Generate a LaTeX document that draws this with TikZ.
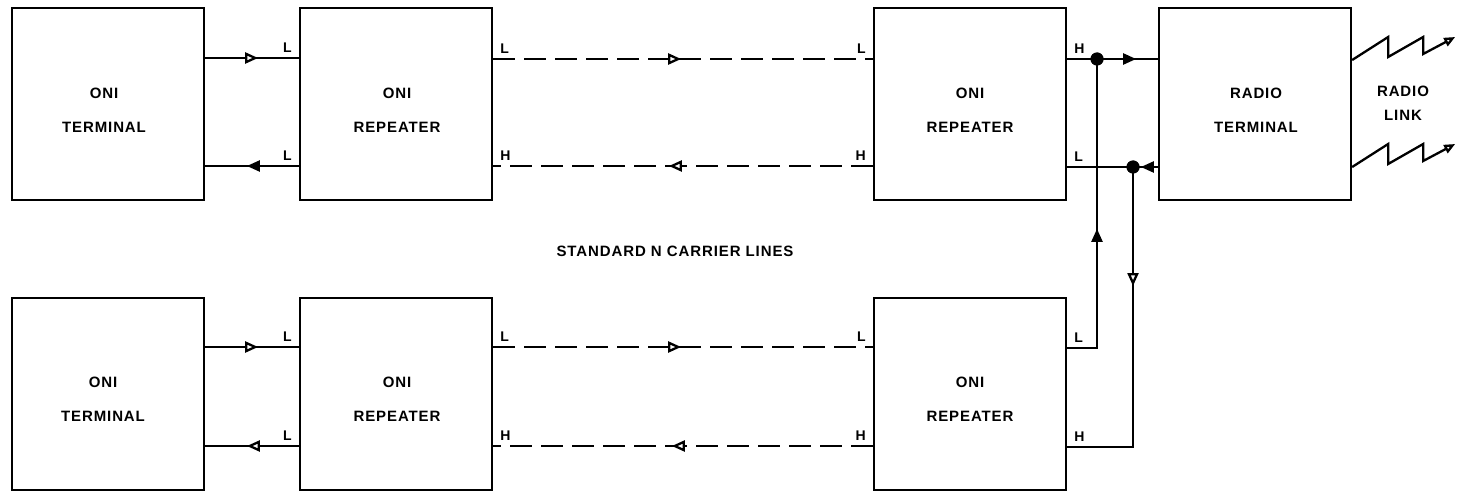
\documentclass[tikz,border=0pt]{standalone}
\usepackage{fontspec}
\newfontfamily\diafont{Liberation Sans}[LetterSpace=6]
\usetikzlibrary{arrows.meta,decorations.markings}
\tikzset{
  box/.style={draw, line width=2.3pt, minimum width=192pt, minimum height=192pt, inner sep=0pt},
  txt/.style={align=center, inner sep=0pt, font=\diafont\bfseries\fontsize{15}{34}\selectfont},
  linktxt/.style={align=center, inner sep=0pt, font=\diafont\bfseries\fontsize{15}{24}\selectfont},
  wire/.style={line width=2.3pt},
  dashwire/.style={wire, dash pattern=on 22pt off 9pt},
  lbl/.style={font=\diafont\bfseries\fontsize{14}{16}\selectfont, inner xsep=6pt, inner ysep=4pt},
  fwd/.style={postaction={decorate}, decoration={markings, mark=at position #1 with {\arrow{Triangle[length=13pt,width=11pt]}}}},
  fwdo/.style={postaction={decorate}, decoration={markings, mark=at position #1 with {\arrow{Triangle[length=13pt,width=11pt,fill=white]}}}},
  jdot/.style={circle, fill, inner sep=0pt, minimum size=13pt},
  zig/.style={wire, -{Triangle[length=11pt,width=9pt,fill=white]}},
}
\begin{document}
\begin{tikzpicture}[x=1pt, y=-1pt]
\path[use as bounding box] (0,0) rectangle (1457,492);
% top row
\node[box] (t1) at (108,104) {};
\node[box] (r1) at (396,104) {};
\node[box] (r2) at (970,104) {};
\node[box] (rt) at (1255,104) {};
% bottom row
\node[box] (b1) at (108,394) {};
\node[box] (b2) at (396,394) {};
\node[box] (b3) at (970,394) {};
% texts
\node[txt] (t1t) at (104,110) {ONI\\TERMINAL};
\node[txt] (r1t) at (397,110) {ONI\\REPEATER};
\node[txt] (r2t) at (970,110) {ONI\\REPEATER};
\node[txt] (rtt) at (1256,110) {RADIO\\TERMINAL};
\node[linktxt] (rl) at (1403,103) {RADIO\\LINK};
\node[txt] (b1t) at (103,399) {ONI\\TERMINAL};
\node[txt] (b2t) at (397,399) {ONI\\REPEATER};
\node[txt] (b3t) at (970,399) {ONI\\REPEATER};
\node[txt] (std) at (675,251) {STANDARD N CARRIER LINES};
% junction dots
\node[jdot] (d1) at (1097,59) {};
\node[jdot] (d2) at (1133,167) {};
% top row connectors
\draw[wire, fwdo=53pt] ([yshift=46pt]t1.east) -- ([yshift=46pt]r1.west) node[lbl, anchor=south east, pos=1] {L};
\draw[wire, fwd=52pt] ([yshift=-62pt]r1.west) node[lbl, anchor=south east] {L} -- ([yshift=-62pt]t1.east);
\draw[dashwire, fwdo=188pt] ([yshift=45pt]r1.east) node[lbl, anchor=south west] {L} -- ([yshift=45pt]r2.west) node[lbl, anchor=south east] {L};
\draw[dashwire, fwdo=204pt] ([yshift=-62pt]r2.west) node[lbl, anchor=south east] {H} -- ([yshift=-62pt]r1.east) node[lbl, anchor=south west] {H};
\draw[wire, fwd=69pt] ([yshift=45pt]r2.east) node[lbl, anchor=south west] {H} -- (d1.center) -- ([yshift=45pt]rt.west);
\draw[wire, fwd=17pt] ([yshift=-63pt]rt.west) -- (d2.center) -- ([yshift=-63pt]r2.east) node[lbl, anchor=south west] {L};
% bottom row connectors
\draw[wire, fwdo=53pt] ([yshift=47pt]b1.east) -- ([yshift=47pt]b2.west) node[lbl, anchor=south east, pos=1] {L};
\draw[wire, fwdo=52pt] ([yshift=-52pt]b2.west) node[lbl, anchor=south east] {L} -- ([yshift=-52pt]b1.east);
\draw[dashwire, fwdo=188pt] ([yshift=47pt]b2.east) node[lbl, anchor=south west] {L} -- ([yshift=47pt]b3.west) node[lbl, anchor=south east] {L};
\draw[dashwire, fwdo=201pt] ([yshift=-52pt]b3.west) node[lbl, anchor=south east] {H} -- ([yshift=-52pt]b2.east) node[lbl, anchor=south west] {H};
% cross connections
\draw[wire, fwd=149pt] ([yshift=46pt]b3.east) node[lbl, anchor=south west] {L} -| (d1.center);
\draw[wire, fwdo=119pt] (d2.center) |- ([yshift=-53pt]b3.east) node[lbl, anchor=south west] {H};
\node[jdot] at (d1) {};
\node[jdot] at (d2) {};
% radio link zigzags
\draw[zig] ([yshift=44pt]rt.east) -- ++(36,-23) -- ++(0,20) -- ++(35,-20) -- ++(0,17) -- ++(32,-17);
\draw[zig] ([yshift=-63pt]rt.east) -- ++(36,-23) -- ++(0,20) -- ++(35,-20) -- ++(0,17) -- ++(32,-17);
\end{tikzpicture}
\end{document}
